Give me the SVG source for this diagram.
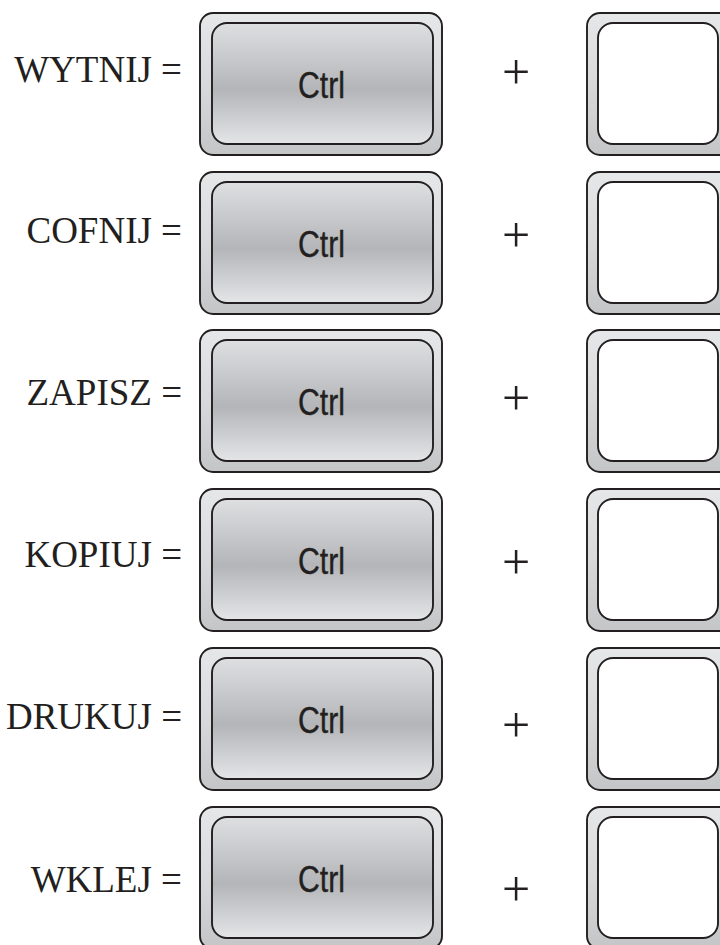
<svg xmlns="http://www.w3.org/2000/svg" width="720" height="945" viewBox="0 0 720 945">
<defs>
<linearGradient id="ring" x1="0" y1="0" x2="0" y2="1">
<stop offset="0" stop-color="#e6e7e8"/>
<stop offset="0.5" stop-color="#d8d9db"/>
<stop offset="1" stop-color="#c4c5c7"/>
</linearGradient>
<linearGradient id="face" x1="0" y1="0" x2="0" y2="1">
<stop offset="0" stop-color="#dedfe1"/>
<stop offset="0.55" stop-color="#b4b5b8"/>
<stop offset="1" stop-color="#e4e5e7"/>
</linearGradient>
<g id="row">
<rect class="outer" x="200" y="0" width="242" height="142" rx="13"/>
<rect class="face" x="212" y="10" width="221" height="121" rx="15"/>
<text class="ctrl" x="298" y="85" textLength="47" lengthAdjust="spacingAndGlyphs">Ctrl</text>
<rect class="outer" x="587" y="0" width="145" height="142" rx="13"/>
<rect class="blank" x="598" y="10" width="120" height="121" rx="15"/>
</g>
</defs>
<style>
.outer{fill:url(#ring);stroke:#231f20;stroke-width:1.9}
.face{fill:url(#face);stroke:#231f20;stroke-width:1.9}
.blank{fill:#ffffff;stroke:#231f20;stroke-width:1.9}
.ctrl{font-family:"Liberation Sans",Arial,sans-serif;font-size:37px;fill:#231f20;stroke:#231f20;stroke-width:0.4}
.lbl{font-family:"Liberation Serif","Times New Roman",serif;font-size:37px;fill:#231f20;text-anchor:end}
.plus{font-family:"Liberation Serif","Times New Roman",serif;font-size:50px;fill:#231f20;text-anchor:middle}
</style>
<rect width="720" height="945" fill="#ffffff"/>
<g id="row1"><use href="#row" y="13"/><text class="lbl" x="182" y="82">WYTNIJ =</text><text class="plus" x="516" y="89">+</text></g>
<g id="row2"><use href="#row" y="172"/><text class="lbl" x="182" y="243">COFNIJ =</text><text class="plus" x="516" y="252">+</text></g>
<g id="row3"><use href="#row" y="330"/><text class="lbl" x="182" y="405">ZAPISZ =</text><text class="plus" x="516" y="415">+</text></g>
<g id="row4"><use href="#row" y="489"/><text class="lbl" x="182" y="567">KOPIUJ =</text><text class="plus" x="516" y="579">+</text></g>
<g id="row5"><use href="#row" y="648"/><text class="lbl" x="182" y="729">DRUKUJ =</text><text class="plus" x="516" y="742">+</text></g>
<g id="row6"><use href="#row" y="807"/><text class="lbl" x="182" y="892">WKLEJ =</text><text class="plus" x="516" y="906">+</text></g>
<g id="connectors"/>
</svg>
